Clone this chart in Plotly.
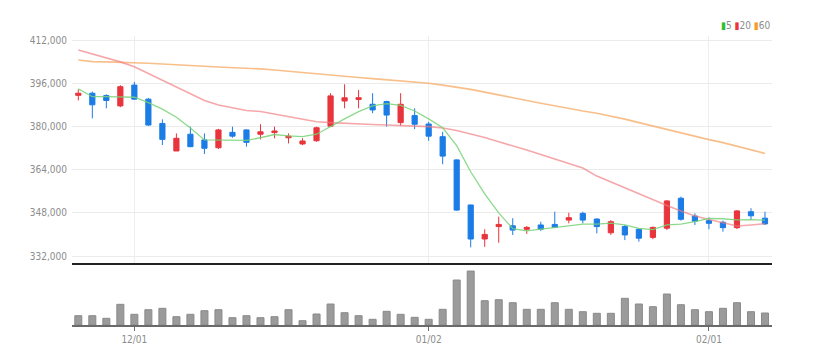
import plotly.graph_objects as go

# ---- data (prices in KRW) ----
opens = [391500, 392300, 391400, 387600, 395300, 390100, 381100, 370900, 377100, 375000,
         372100, 377800, 378700, 377100, 377700, 375800, 373500, 374700, 380100, 389400,
         390000, 388200, 389200, 381400, 384000, 380900, 376200, 367600, 350900, 338300,
         342900, 343200, 341900, 343500, 343700, 345300, 347800, 345700, 340600, 342900,
         341900, 338900, 342300, 353400, 346800, 345100, 344500, 342500, 348400, 346000]
highs = [393700, 392900, 391900, 395300, 396500, 390500, 382600, 377400, 379900, 377400,
         379100, 379900, 378900, 380800, 379900, 377400, 375600, 379900, 392300, 395600,
         393500, 392300, 389500, 392300, 386700, 381700, 378000, 367800, 351000, 341900,
         346600, 346000, 343100, 344700, 348400, 348000, 348400, 345900, 345300, 343500,
         342300, 342900, 352700, 354000, 347800, 346300, 345100, 349000, 349700, 348400]
lows = [389600, 383000, 386700, 387100, 389800, 380200, 373100, 370900, 372300, 369800,
        371600, 375800, 372500, 375200, 375600, 373700, 373100, 374300, 379900, 386700,
        386700, 384900, 379900, 380300, 379000, 374700, 366000, 348800, 335200, 335400,
        336900, 339800, 340200, 341300, 342300, 344100, 344100, 340400, 339800, 337900,
        337300, 338200, 341600, 345100, 343500, 341900, 341000, 342000, 345300, 343500]
closes = [392300, 388000, 389600, 394700, 390100, 380500, 375200, 375600, 372500, 371900,
          378700, 376400, 374100, 378000, 378300, 376400, 374600, 379500, 391300, 390600,
          390600, 386100, 384200, 388200, 380800, 376400, 369000, 349000, 338300, 340000,
          343700, 341600, 342600, 341900, 342600, 346200, 345300, 342900, 344700, 339800,
          338600, 342600, 352400, 345600, 344900, 344100, 342500, 348700, 346900, 343900]
ma5 = [393900, 391000, 391000, 391000, 390800, 388800, 386400, 383400, 379400, 375000,
       374900, 375000, 374800, 375800, 377000, 376500, 376200, 377100, 380100, 382800,
       385500, 387600, 388400, 387800, 385700, 382800, 379500, 372900, 363200, 355000,
       348000, 342100, 341300, 341900, 342500, 343200, 343800, 343800, 344200, 343500,
       342200, 341800, 343500, 343800, 344700, 345900, 345800, 345400, 345500, 345300]
ma20 = [408300, 406800, 405200, 403900, 402100, 399600, 397200, 394600, 392000, 389600,
        387900, 386800, 385900, 385500, 384600, 383500, 382600, 381700, 381400, 381100,
        380900, 380700, 380500, 380300, 380100, 379900, 379400, 378500, 377200, 375900,
        374300, 372900, 371300, 369600, 367900, 366300, 364600, 361600, 359400, 357200,
        355000, 352700, 350700, 348700, 346800, 345500, 344200, 343100, 343500, 344000]
ma60 = [404600, 404000, 403900, 403800, 403600, 403400, 403100, 402900, 402600, 402300,
        402000, 401800, 401500, 401300, 400900, 400400, 399900, 399400, 398900, 398500,
        398100, 397700, 397300, 396900, 396400, 396000, 395300, 394600, 393700, 392700,
        391600, 390600, 389600, 388600, 387600, 386600, 385700, 384900, 383900, 382700,
        381400, 380100, 378900, 377600, 376300, 375100, 374000, 372700, 371300, 370000]
volumes = [93000, 93000, 67000, 207000, 107000, 153000, 167000, 83000, 107000, 143000,
           153000, 73000, 93000, 73000, 83000, 153000, 43000, 110000, 210000, 123000,
           93000, 57000, 137000, 107000, 77000, 57000, 157000, 450000, 540000, 243000,
           253000, 223000, 157000, 157000, 223000, 157000, 133000, 117000, 117000, 267000,
           210000, 183000, 310000, 203000, 153000, 133000, 167000, 223000, 133000, 120000]
tick_index = [4, 25, 45]
tick_labels = ["12/01", "01/02", "02/01"]
price_ticks = [332000, 348000, 364000, 380000, 396000, 412000]

x = list(range(len(closes)))

UP = "#e8343c"
DOWN = "#1b7ce6"
FONT = "DejaVu Sans Condensed, Liberation Sans Narrow, Arial Narrow, Roboto, sans-serif"

fig = go.Figure()
fig.add_trace(go.Scatter(x=x, y=ma60, mode="lines", line=dict(color="rgba(246,170,100,0.75)", width=1.6),
                         hoverinfo="skip", showlegend=False, yaxis="y"))
fig.add_trace(go.Scatter(x=x, y=ma20, mode="lines", line=dict(color="rgba(240,120,125,0.65)", width=1.6),
                         hoverinfo="skip", showlegend=False, yaxis="y"))
fig.add_trace(go.Candlestick(x=x, open=opens, high=highs, low=lows, close=closes,
                             increasing=dict(line=dict(color=UP, width=1), fillcolor=UP),
                             decreasing=dict(line=dict(color=DOWN, width=1), fillcolor=DOWN),
                             whiskerwidth=0, showlegend=False, yaxis="y"))
fig.add_trace(go.Scatter(x=x, y=ma5, mode="lines", line=dict(color="rgba(120,210,120,0.85)", width=1.3),
                         hoverinfo="skip", showlegend=False, yaxis="y"))
fig.add_trace(go.Bar(x=x, y=volumes, marker=dict(color="#9b9b9b", line=dict(color="#8a8a8a", width=1)),
                     showlegend=False, xaxis="x2", yaxis="y2"))

xr = [-0.45, 49.5]
fig.update_layout(
    width=819, height=359,
    margin=dict(l=64, r=55, t=28, b=42),
    paper_bgcolor="white", plot_bgcolor="white",
    font=dict(family=FONT, size=10, color="#8c8c8c"),
    boxgap=0.47,
    bargap=0.5,
    xaxis=dict(domain=[0, 1], anchor="y", range=xr, showticklabels=False, ticks="",
               tickvals=tick_index, showgrid=True, gridcolor="#eeeeee", gridwidth=1,
               showline=True, linecolor="#222222", linewidth=2, zeroline=False,
               rangeslider=dict(visible=False), fixedrange=True),
    yaxis=dict(domain=[0.2145, 1], range=[329410, 413480], tickvals=price_ticks,
               tickformat=",d", showgrid=True, gridcolor="#ebebeb", gridwidth=1,
               zeroline=False, showline=False, ticks="", ticklabelstandoff=4,
               tickfont=dict(family=FONT, size=10, color="#8c8c8c")),
    xaxis2=dict(domain=[0, 1], anchor="y2", range=xr, tickvals=tick_index, ticktext=tick_labels,
                showgrid=False, showline=True, linecolor="#6a6a6a", linewidth=2,
                ticks="outside", ticklen=4, tickcolor="#6a6a6a", tickwidth=1,
                tickfont=dict(family=FONT, size=10, color="#8c8c8c"), zeroline=False),
    yaxis2=dict(domain=[0, 0.204], range=[0, 590000], showticklabels=False, showgrid=False,
                zeroline=False, showline=False, ticks=""),
    annotations=[dict(xref="paper", yref="paper", x=1.0, y=1.038, xanchor="right", yanchor="middle",
                      showarrow=False,
                      text=('<span style="color:#2fbf2f">▮</span>5 '
                            '<span style="color:#ee3340">▮</span>20 '
                            '<span style="color:#f39c2c">▮</span>60'),
                      font=dict(family=FONT, size=10, color="#8c8c8c"))],
)

fig.write_html("out.html")
